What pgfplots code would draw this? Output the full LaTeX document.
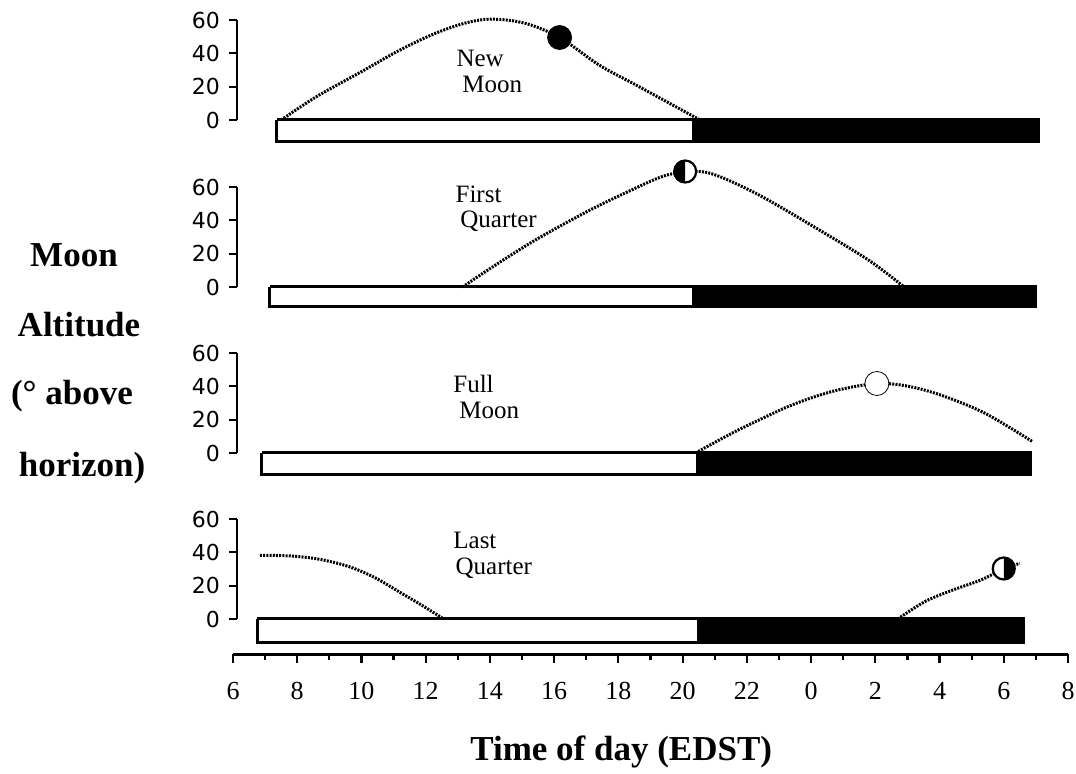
\documentclass[border=0pt]{standalone}
\usepackage{pgfplots}
\pgfplotsset{compat=1.18}
\usepackage{fontspec}
\setmainfont{Liberation Serif}
\newfontfamily\dejavu{DejaVu Sans}

\pgfdeclareplotmark{qleft}{%
  \pgfpathcircle{\pgfpointorigin}{\pgfplotmarksize}%
  \pgfsetfillcolor{white}%
  \pgfusepathqfillstroke
  \pgfpathmoveto{\pgfqpoint{0pt}{\pgfplotmarksize}}%
  \pgfpatharc{90}{270}{\pgfplotmarksize}%
  \pgfpathclose
  \pgfsetfillcolor{black}%
  \pgfusepathqfill
}
\pgfdeclareplotmark{qright}{%
  \pgfpathcircle{\pgfpointorigin}{\pgfplotmarksize}%
  \pgfsetfillcolor{white}%
  \pgfusepathqfillstroke
  \pgfpathmoveto{\pgfqpoint{0pt}{\pgfplotmarksize}}%
  \pgfpatharc{90}{-90}{\pgfplotmarksize}%
  \pgfpathclose
  \pgfsetfillcolor{black}%
  \pgfusepathqfill
}

\tikzset{lab/.style={anchor=base west, inner sep=0pt, font=\fontsize{12.5}{14}\selectfont}}

\pgfplotsset{
  panel/.style={
    scale only axis, width=417.5pt, height=50pt,
    xmin=6.125, xmax=32.125, ymin=0, ymax=60,
    axis x line=none, axis y line*=left,
    clip=false,
    ytick={0,20,40,60}, xtick=\empty,
    tick align=outside, major tick length=4pt,
    tick style={line width=1.1pt, black},
    y axis line style={line width=1.1pt},
    yticklabel style={font=\dejavu\fontsize{11}{12}\selectfont, xshift=-1pt},
    /pgf/number format/assume math mode=true,
    anchor=south west,
  },
  curve/.style={black, line width=1.5pt, dash pattern=on 1pt off 0.6pt, smooth, tension=0.55},
  daybar/.style={draw=black, fill=white, line width=1.5pt, line join=miter},
  nightbar/.style={draw=black, fill=black, line width=1.5pt, line join=miter},
  moonmark/.style={only marks, mark size=#1, mark options={solid, line width=1.1pt}},
}

\begin{document}
\begin{tikzpicture}
\path[use as bounding box] (-116.5pt,0pt) rectangle (421.5pt,-387pt);

% Panel 1: New Moon
\begin{axis}[panel, at={(2pt,-60pt)}]
\addplot[daybar] coordinates {(7.37,0) (20.35,0) (20.35,-13) (7.37,-13) (7.37,0)};
\addplot[nightbar] coordinates {(20.35,0) (31.08,0) (31.08,-13) (20.35,-13) (20.35,0)};
\addplot[curve] coordinates {(7.5,0) (8.6,14) (10,29) (11.2,42) (12.3,52) (13.3,58.5) (14.1,60.5) (15.1,58) (16.17,49.5) (17.4,33) (18.5,21.5) (19.5,11) (20.5,0.5)};
\addplot[moonmark=6pt, mark=*, mark options={fill=black}] coordinates {(16.17,49.5)};
\node[lab] at (axis cs:12.95,31.8) {New};
\node[lab] at (axis cs:13.13,16.2) {Moon};
\end{axis}

% Panel 2: First Quarter
\begin{axis}[panel, at={(2pt,-143.5pt)}]
\addplot[daybar] coordinates {(7.15,0) (20.35,0) (20.35,-12) (7.15,-12) (7.15,0)};
\addplot[nightbar] coordinates {(20.35,0) (31.0,0) (31.0,-12) (20.35,-12) (20.35,0)};
\addplot[curve] coordinates {(13.15,0) (14,11) (15.4,28) (17.1,46) (18.5,59) (19.4,66.5) (20.1,69) (20.9,68) (22.3,56) (24.1,36) (25.8,16) (26.9,0)};
\addplot[moonmark=5.5pt, mark=qleft] coordinates {(20.08,69.3)};
\node[lab] at (axis cs:12.92,51) {First};
\node[lab] at (axis cs:13.07,35.4) {Quarter};
\end{axis}

% Panel 3: Full Moon
\begin{axis}[panel, at={(2pt,-226.5pt)}]
\addplot[daybar] coordinates {(6.9,0) (20.45,0) (20.45,-13) (6.9,-13) (6.9,0)};
\addplot[nightbar] coordinates {(20.45,0) (30.83,0) (30.83,-13) (20.45,-13) (20.45,0)};
\addplot[curve] coordinates {(20.4,0) (21.5,11.5) (22.4,20) (23.3,28) (24.15,34) (25.0,38.5) (26.05,41.7) (26.95,40.3) (28.0,35) (29.4,24) (30.88,7)};
\addplot[moonmark=6pt, mark=*, mark options={fill=white}] coordinates {(26.05,41.7)};
\node[lab] at (axis cs:12.85,36.6) {Full};
\node[lab] at (axis cs:13.04,20.4) {Moon};
\end{axis}

% Panel 4: Last Quarter
\begin{axis}[panel, at={(2pt,-309.5pt)}]
\addplot[daybar] coordinates {(6.75,0) (20.5,0) (20.5,-14) (6.75,-14) (6.75,0)};
\addplot[nightbar] coordinates {(20.5,0) (30.6,0) (30.6,-14) (20.5,-14) (20.5,0)};
\addplot[curve] coordinates {(6.84,38.2) (7.8,37.8) (8.7,35.8) (9.6,31.5) (10.4,25) (11.2,16) (11.9,8) (12.56,0)};
\addplot[curve] coordinates {(26.7,0) (27.55,10.5) (28.4,17.3) (29.3,23.5) (30.0,30.3) (30.5,33.3)};
\addplot[moonmark=5.5pt, mark=qright] coordinates {(30.0,30.3)};
\node[lab] at (axis cs:12.85,42.6) {Last};
\node[lab] at (axis cs:12.92,27) {Quarter};
\end{axis}

% Time axis
\begin{axis}[scale only axis, width=417.5pt, height=10pt,
  at={(0pt,-327pt)}, anchor=south west,
  xmin=6, xmax=32, ymin=0, ymax=1,
  axis x line*=bottom, axis y line=none,
  xtick={6,8,...,32},
  xticklabels={6,8,10,12,14,16,18,20,22,0,2,4,6,8},
  minor x tick num=1,
  tick align=outside, major tick length=4.5pt, minor tick length=3pt,
  tick style={line width=1.1pt, black},
  x axis line style={line width=1.5pt},
  /pgf/number format/assume math mode=true,
  xticklabel style={font=\fontsize{13}{15}\selectfont, text height=8.8pt, text depth=0pt, yshift=-6pt},
  xlabel={Time of day (EDST)},
  every axis x label/.style={at={(axis description cs:0.2838,0)}, anchor=base west, inner sep=0pt, yshift=-53pt, font=\bfseries\fontsize{17.5}{20}\selectfont},
]
\end{axis}

% Y description
\begin{scope}[every node/.style={anchor=base, font=\bfseries\fontsize{17.5}{20}\selectfont, inner sep=0pt}]
\node at (-79.5pt,-133.5pt) {Moon};
\node at (-77pt,-168.5pt) {Altitude};
\node at (-80.5pt,-202.5pt) {(° above};
\node at (-75.5pt,-238.5pt) {horizon)};
\end{scope}
\end{tikzpicture}
\end{document}
